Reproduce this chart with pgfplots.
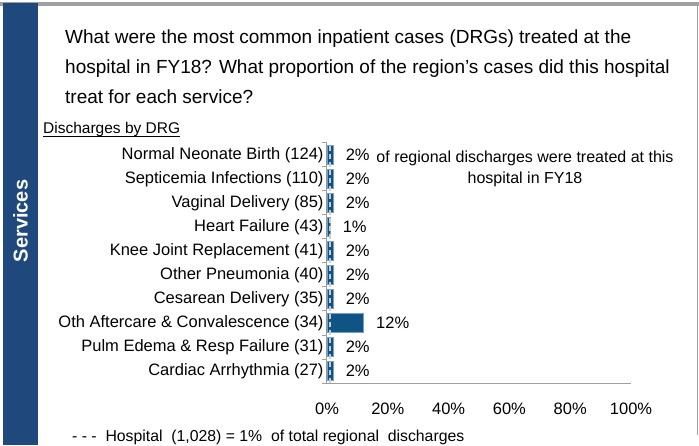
\documentclass[border=0pt]{standalone}
\usepackage{pgfplots}
\pgfplotsset{compat=1.18}
\usepackage{fontspec}
\setmainfont{Liberation Sans}
\definecolor{barblue}{RGB}{16,84,134}
\definecolor{baredge}{RGB}{120,160,195}
\definecolor{sideblue}{RGB}{31,73,125}
\definecolor{framegray}{RGB}{160,160,160}
\begin{document}
\begin{tikzpicture}
\path[use as bounding box] (0,0) rectangle (699pt,445pt);
\fill[white] (0,0) rectangle (699pt,445pt);
% frame
\fill[framegray] (0pt,439pt) rectangle (699pt,443pt);
\draw[framegray, line width=1pt] (697.5pt,443pt) -- (697.5pt,10pt);
\fill[sideblue] (3pt,0pt) rectangle (38pt,442pt);
\node[rotate=90, text=white, font=\fontsize{20}{24}\selectfont\bfseries] at (20.5pt,224pt) {Services};
% title
\begin{scope}[font=\fontsize{19}{23}\selectfont]
\node[anchor=base west, inner sep=0pt] at (65pt,401pt) {What were the most common inpatient cases (DRGs) treated at the};
\node[anchor=base west, inner sep=0pt] at (65pt,371pt) {hospital in FY18? What proportion of the region's cases did this hospital};
\node[anchor=base west, inner sep=0pt] at (65pt,341pt) {treat for each service?};
\end{scope}
\node[anchor=base west, inner sep=0pt, font=\fontsize{15.5}{19}\selectfont] (dd) at (43pt,311pt) {Discharges by DRG};
\draw[line width=0.6pt] (43pt,309pt) -- (dd.base east |- 0,309pt);
\node[align=center, font=\fontsize{16}{21}\selectfont, anchor=north] at (525pt,298pt) {of regional discharges were treated at this\\hospital in FY18};
\node[anchor=base west, inner sep=0pt, font=\fontsize{15.8}{19}\selectfont] at (72pt,3.5pt) {- - -\ \ Hospital\ \ (1,028) = 1\%\ \ of total regional\ \ discharges};
\begin{axis}[
  at={(327pt,62pt)}, anchor=south west,
  scale only axis, width=304pt, height=240pt,
  xmin=0, xmax=100, ymin=-0.5, ymax=9.5,
  axis x line=bottom, axis y line=left,
  axis line style={-, draw=framegray, line width=1pt},
  xtick={0,20,40,60,80,100},
  xticklabels={0\%,20\%,40\%,60\%,80\%,100\%},
  ytick={0,...,9},
  yticklabels={Cardiac Arrhythmia (27),Pulm Edema \& Resp Failure (31),Oth Aftercare \& Convalescence (34),Cesarean Delivery (35),Other Pneumonia (40),Knee Joint Replacement (41),Heart Failure (43),Vaginal Delivery (85),Septicemia Infections (110),Normal Neonate Birth (124)},
  major tick length=0pt,
  minor ytick={-0.5,0.5,...,9.5},
  minor tick length=5pt,
  tick align=outside,
  minor tick style={draw=framegray, line width=1pt},
  yticklabel style={font=\fontsize{16.5}{19}\selectfont},
  xticklabel style={font=\fontsize{16.5}{19}\selectfont, yshift=-16pt},
  /pgf/number format/assume math mode=true,
  clip=false,
]
\addplot[xbar, bar width=19pt, fill=barblue, draw=baredge, line width=0.8pt,
  point meta=x,
  nodes near coords={\pgfmathprintnumber{\pgfplotspointmeta}\%},
  nodes near coords align={horizontal},
  every node near coord/.append style={anchor=west, xshift=9pt, text=black, font=\fontsize{16.5}{19}\selectfont}]
  coordinates {(2,0) (2,1) (12,2) (2,3) (2,4) (2,5) (1,6) (2,7) (2,8) (2,9)};
\addplot[draw=gray!40, dashed, line width=1.5pt, dash pattern=on 5pt off 3pt, forget plot]
  coordinates {(1,-0.5) (1,9.5)};
\end{axis}
\end{tikzpicture}
\end{document}
